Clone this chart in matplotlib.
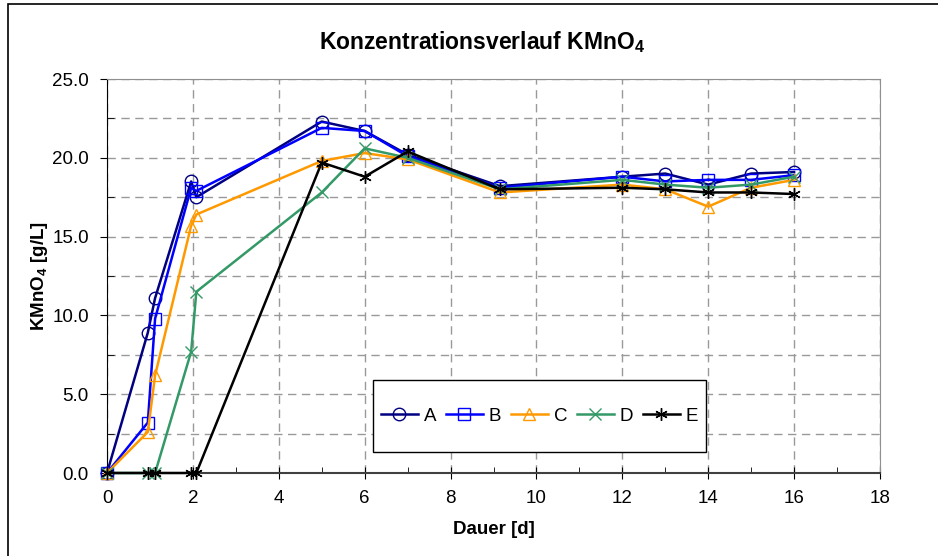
import matplotlib
matplotlib.use("Agg")
import matplotlib.pyplot as plt
from matplotlib.patches import Rectangle
from matplotlib.ticker import MultipleLocator, FormatStrFormatter

plt.rcParams['font.family'] = ['Liberation Sans', 'DejaVu Sans']
plt.rcParams['mathtext.fontset'] = 'custom'
plt.rcParams['mathtext.rm'] = 'Liberation Sans'
plt.rcParams['mathtext.bf'] = 'Liberation Sans:bold'

# Dauer [d]
days = [0, 0.95, 1.12, 1.96, 2.08, 5, 6, 7, 9.15, 12, 13, 14, 15, 16]
# KMnO4 [g/L]
conc_a = [0, 8.9, 11.1, 18.5, 17.5, 22.3, 21.7, 20.2, 18.2, 18.8, 19.0, 18.3, 19.0, 19.1]
conc_b = [0, 3.2, 9.8, 18.1, 17.9, 21.9, 21.7, 20.1, 18.1, 18.8, 18.5, 18.6, 18.6, 18.9]
conc_c = [0, 2.6, 6.2, 15.7, 16.4, 19.8, 20.3, 19.9, 17.8, 18.3, 18.0, 16.9, 18.1, 18.6]
conc_d = [0, 0, 0, 7.7, 11.5, 17.8, 20.6, 20.0, 18.0, 18.6, 18.3, 18.1, 18.3, 18.8]
conc_e = [0, 0, 0, 0, 0, 19.7, 18.8, 20.4, 18.0, 18.1, 18.0, 17.8, 17.8, 17.7]
labels = ['A', 'B', 'C', 'D', 'E']

series = [conc_a, conc_b, conc_c, conc_d, conc_e]
colors = ['#000080', '#0000FF', '#FF9900', '#339966', '#000000']
markers = ['o', 's', '^', 'x', (6, 2, 0)]

fig = plt.figure(figsize=(9.38, 5.56), dpi=100)
ax = fig.add_axes([107/938, 1-473/556, 773/938, 394/556])

for ys, lab, c, m in zip(series, labels, colors, markers):
    ax.plot(days, ys, color=c, lw=1.8, marker=m, markersize=9,
            markerfacecolor='none', markeredgecolor=c, markeredgewidth=1.0,
            label=lab, clip_on=False, zorder=3)

ax.set_xlim(0, 18)
ax.set_ylim(0, 25)
ax.xaxis.set_major_locator(MultipleLocator(2))
ax.xaxis.set_minor_locator(MultipleLocator(1))
ax.yaxis.set_major_locator(MultipleLocator(5))
ax.yaxis.set_minor_locator(MultipleLocator(2.5))
ax.yaxis.set_major_formatter(FormatStrFormatter('%.1f'))

ax.grid(True, which='major', axis='x', color='#999999', ls=(0, (6, 4)), lw=1)
ax.grid(True, which='both', axis='y', color='#999999', ls=(0, (6, 4)), lw=1)
ax.set_axisbelow(True)

ax.tick_params(axis='x', which='major', direction='inout', length=8, labelsize=13.5, pad=8)
ax.tick_params(axis='x', which='minor', direction='in', length=4)
ax.tick_params(axis='y', which='major', direction='out', length=5, labelsize=13.5, pad=8)
ax.tick_params(axis='y', which='minor', direction='in', length=5)

ax.spines['left'].set_color('black')
ax.spines['bottom'].set_color('#404040')
ax.spines['bottom'].set_linewidth(1.5)
ax.spines['top'].set_color('#909090')
ax.spines['right'].set_color('#909090')

ax.set_xlabel('Dauer [d]', fontsize=13.5, fontweight='bold', labelpad=10)
ax.set_ylabel(r'KMnO$_\mathbf{4}$ [g/L]', fontsize=13.5, fontweight='bold')
ax.yaxis.set_label_coords(-0.074, 0.5)
fig.text(482/938, 1-42/556, r'Konzentrationsverlauf KMnO$_\mathbf{4}$', fontsize=16.5,
         fontweight='bold', ha='center', va='center')

# legend box
ax.add_patch(Rectangle((0.344, 0.053), 0.431, 0.183, transform=ax.transAxes,
                       facecolor='white', edgecolor='black', lw=1.0, zorder=5))
leg = ax.legend(loc='center', bbox_to_anchor=(0.5595, 0.1447), ncol=5, fontsize=13.5,
                handlelength=2.0, handletextpad=0.3, columnspacing=0.5,
                frameon=False)
leg.set_zorder(6)

fig.patches.append(Rectangle((8/938, -0.1), 1.0, 1.1 - 4/556, transform=fig.transFigure,
                             fill=False, edgecolor='black', lw=1.2))

fig.savefig('out.png', dpi=100)
